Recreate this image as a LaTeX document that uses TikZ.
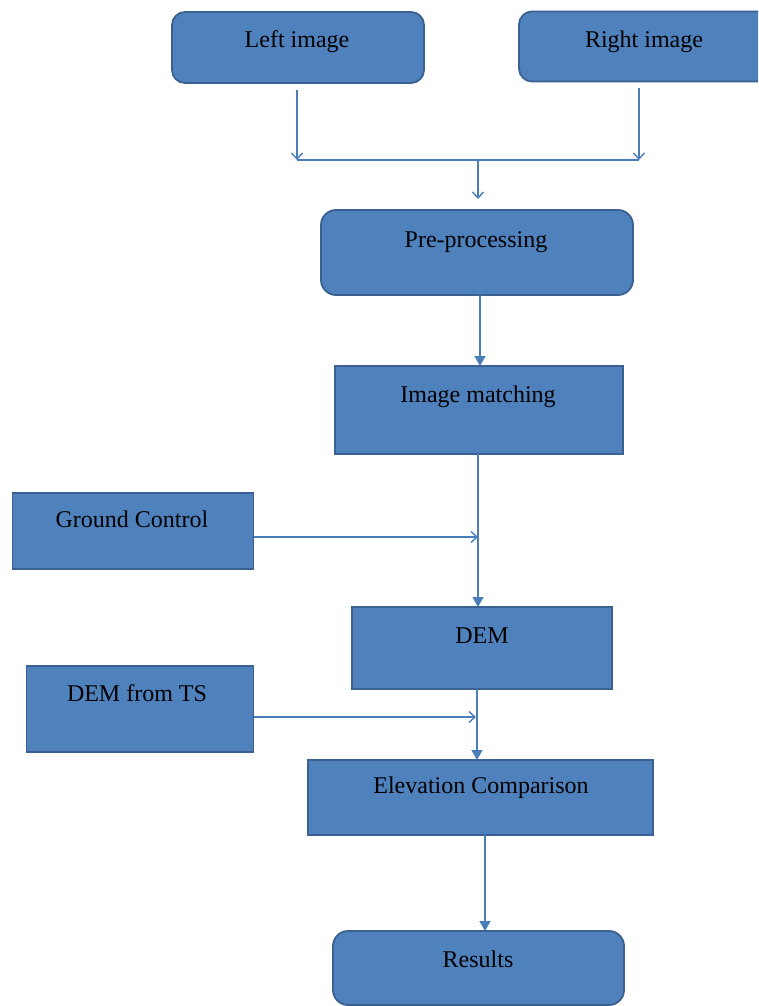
\documentclass[tikz,border=0pt]{standalone}
\usepackage{fontspec}
\setmainfont{Liberation Serif}
\newfontfamily\tnrfont{Liberation Serif}
\usetikzlibrary{arrows.meta}
\definecolor{boxfill}{HTML}{4F81BD}
\definecolor{boxline}{HTML}{3A6192}
\definecolor{conn}{HTML}{4A7EBB}
\tikzset{
  box/.style={draw=boxline, fill=boxfill, line width=1.8pt, inner sep=0pt, outer sep=0pt},
  rbox/.style={box, rounded corners=13pt},
  lbl/.style={anchor=base, inner sep=0pt, font=\tnrfont\fontsize{24}{28}\selectfont, text=black},
  conline/.style={draw=conn, line width=1.6pt},
  openarrow/.style={conline, -{Straight Barb[length=6pt,width=11pt,line width=1.4pt]}},
  fillarrow/.style={conline, -{Triangle[length=10pt,width=11pt]}}
}
\begin{document}
\begin{tikzpicture}[x=1pt,y=-1pt]
\clip (0,0) rectangle (758,1006);
\fill[white] (0,0) rectangle (758,1006);
% boxes
\node[rbox, minimum width=252pt, minimum height=71pt] (li) at (298,47.5) {};
\node[rbox, minimum width=280pt, minimum height=70pt] (ri) at (659,46.5) {};
\node[rbox, rounded corners=15pt, minimum width=312pt, minimum height=85pt] (pre) at (477,252.5) {};
\node[box, minimum width=288pt, minimum height=88pt] (im) at (479,410) {};
\node[box, minimum width=241pt, minimum height=76pt] (gc) at (133,531) {};
\node[box, minimum width=260pt, minimum height=82pt] (dem) at (482,648) {};
\node[box, minimum width=227pt, minimum height=86pt] (ts) at (140,709) {};
\node[box, minimum width=345pt, minimum height=75pt] (elev) at (480.5,797.5) {};
\node[rbox, rounded corners=15pt, minimum width=291pt, minimum height=74pt] (res) at (478.5,968) {};
% labels
\node[lbl] (tli) at (297,48) {Left image};
\node[lbl] (tri) at (644,48) {Right image};
\node[lbl] (tpre) at (476,247) {Pre-processing};
\node[lbl] (tim) at (478,402) {Image matching};
\node[lbl] (tgc) at (132,527) {Ground Control};
\node[lbl] (tdem) at (482,643) {DEM};
\node[lbl] (tts) at (137,701) {DEM from TS};
\node[lbl] (telev) at (481,793) {Elevation Comparison};
\node[lbl] (tres) at (478,967) {Results};
% junction
\coordinate (jl) at (297,160);
\coordinate (jr) at (639,160);
\coordinate (jm) at (478,160);
\coordinate (trunk) at (478,537);
\draw[openarrow] (li.south -| jl) ++(0,7) -- (jl);
\draw[openarrow] (ri.south -| jr) ++(0,7) -- (jr);
\draw[conline] (jl) -- (jr);
\draw[openarrow] (jm) -- ([yshift=11pt]pre.north -| jm);
% main flow
\draw[fillarrow] ([xshift=3pt]pre.south) -- ([xshift=3pt]pre.south |- im.north);
\draw[fillarrow] ([xshift=-1pt]im.south) -- ([xshift=-1pt]im.south |- dem.north);
\draw[openarrow] ([yshift=-6pt]gc.east) -- ([yshift=-6pt]gc.east -| trunk);
\draw[fillarrow] ([xshift=-5pt]dem.south) -- ([xshift=-5pt]dem.south |- elev.north);
\draw[openarrow] ([yshift=-8pt]ts.east) -- ([xshift=-2pt,yshift=-8pt]ts.east -| trunk);
\draw[fillarrow] ([xshift=4.5pt]elev.south) -- ([xshift=4.5pt]elev.south |- res.north);
\end{tikzpicture}
\end{document}
